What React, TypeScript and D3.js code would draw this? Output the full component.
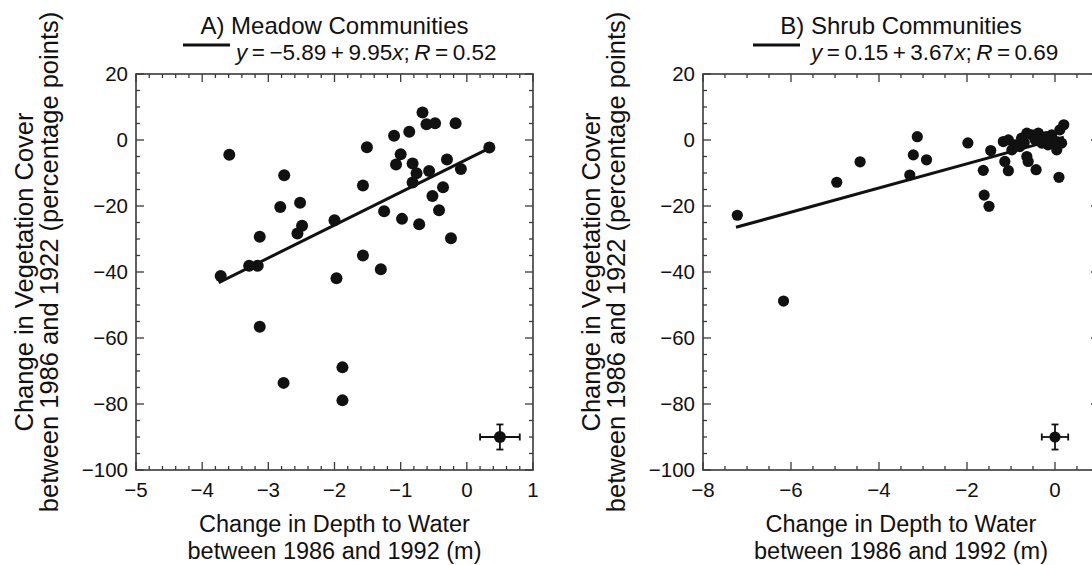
import React from "react";
import * as d3 from "d3";

// ---------- data ----------
const meadowDepth = [
  -3.59, -2.76, -2.82, -2.52, -2.49, -2.56, -3.13, -2.0, -1.51, -1.57, -1.57, -1.25, -1.3, -1.1,
  -0.87, -0.67, -0.61, -0.48, -0.17, -1.0, -1.07, -0.82, -0.76, -0.82, -0.57, -0.3, -0.09, -0.36,
  -0.52, -0.42, -0.98, -0.72, -0.24, 0.34, -3.29, -3.16, -3.72, -1.97, -3.13, -1.88, -2.77, -1.88,
];
const meadowCover = [
  -4.5, -10.7, -20.3, -19, -26, -28.3, -29.3, -24.3, -2.2, -13.8, -35, -21.6, -39.2, 1.3,
  2.5, 8.3, 4.8, 5.1, 5.1, -4.3, -7.4, -7.1, -10.1, -12.9, -9.4, -5.9, -8.8, -14.3,
  -17, -21.3, -23.9, -25.5, -29.8, -2.3, -38.1, -38.1, -41.2, -41.9, -56.6, -68.9, -73.6, -78.9,
];
const shrubDepth = [
  -7.22, -6.17, -4.96, -4.43, -3.13, -3.22, -2.92, -3.3, -1.98, -1.46, -1.63, -1.61, -1.5,
  -1.175, -1.06, -0.91, -1.14, -1.06, -0.64, -0.61, -0.43, -0.76, -0.64, -0.53, -0.38, -0.23,
  -0.075, 0.04, 0.11, 0.2, 0.15, 0.04, 0.09, -0.3, -0.8, -0.98, -0.45, -0.16, -0.7, -0.2,
];
const shrubCover = [
  -22.8, -48.8, -12.8, -6.6, 1.0, -4.5, -6.0, -10.6, -0.9, -3.2, -9.2, -16.7, -20.1,
  -0.47, 0.05, -1.46, -6.5, -9.3, -5.0, -6.5, -9.0, 0.56, 2.07, 1.56, 2.07, 0.56,
  1.56, -0.47, 3.07, 4.6, -0.95, -2.97, -11.3, -0.95, -1.98, -3.0, 0.05, -1.46, -0.8, 1.0,
];

const meadowFit = { intercept: -5.89, slope: 9.95, r: "0.52", from: -3.75, to: 0.35 };
const shrubFit = { intercept: 0.15, slope: 3.67, r: "0.69", from: -7.25, to: 0.2 };
const meadowError = { x: 0.5, y: -90, dx: 0.3, dy: 3.8 };
const shrubError = { x: 0.0, y: -90, dx: 0.3, dy: 3.8 };

const yTicks = [20, 0, -20, -40, -60, -80, -100];
const meadowXTicks = [-5, -4, -3, -2, -1, 0, 1];
const shrubXTicks = [-8, -6, -4, -2, 0];

const FONT = "'Liberation Sans', Arial, Helvetica, sans-serif";
const INK = "#111";
const FRAME = "#3a3a3a";

const fmt = (v: number) => (v < 0 ? "\u2212" + Math.abs(v) : String(v));

type PanelProps = {
  left: number;
  right: number;
  xDomain: [number, number];
  xTicks: number[];
  xMinorStep: number;
  depth: number[];
  cover: number[];
  fit: { intercept: number; slope: number; r: string; from: number; to: number };
  err: { x: number; y: number; dx: number; dy: number };
  title: string;
  radius: number;
  legendX0: number;
  legendGap: number;
};

const TOP = 74;
const BOTTOM = 470;

function Panel(p: PanelProps) {
  const x = d3.scaleLinear().domain(p.xDomain).range([p.left, p.right]);
  const y = d3.scaleLinear().domain([-100, 20]).range([BOTTOM, TOP]);
  const xMinor = d3.range(p.xDomain[0], p.xDomain[1] + 1e-9, p.xMinorStep);
  const yMinor = d3.range(-100, 20 + 1e-9, 5);
  const line = d3.line<number>().x((d) => x(d)).y((d) => y(p.fit.intercept + p.fit.slope * d));
  const cx = (p.left + p.right) / 2;
  const cy = (TOP + BOTTOM) / 2;
  const pts = p.depth.map((d, i) => [d, p.cover[i]]);
  const isMajorX = (v: number) => p.xTicks.some((t) => Math.abs(t - v) < 1e-6);
  const isMajorY = (v: number) => yTicks.some((t) => Math.abs(t - v) < 1e-6);
  const e = p.err;
  const cap = 3.5;
  const sp = "\u2009";
  const signInt = p.fit.intercept < 0 ? "\u2212" + Math.abs(p.fit.intercept).toFixed(2) : p.fit.intercept.toFixed(2);
  return (
    <g fontFamily={FONT} fill={INK}>
      {/* title */}
      <text x={cx} y={34} fontSize={24} textAnchor="middle">{p.title}</text>
      <line x1={p.legendX0} x2={p.legendX0 + 47} y1={45} y2={45} stroke={INK} strokeWidth={3} />
      <text x={p.legendX0 + 47 + p.legendGap} y={60} fontSize={22.5}>
        <tspan fontStyle="italic">y</tspan>
        <tspan>{`${sp}=${sp}${signInt}${sp}+${sp}${p.fit.slope.toFixed(2)}`}</tspan>
        <tspan fontStyle="italic">x</tspan>
        <tspan>{`;${sp}`}</tspan>
        <tspan fontStyle="italic">R</tspan>
        <tspan>{`${sp}=${sp}${p.fit.r}`}</tspan>
      </text>

      {/* frame */}
      <rect x={p.left} y={TOP} width={p.right - p.left} height={BOTTOM - TOP} fill="none" stroke={FRAME} strokeWidth={1.6} />
      {xMinor.map((v, i) => {
        const len = isMajorX(v) ? 8 : 4;
        return (
          <g key={"xt" + i} stroke={FRAME} strokeWidth={1.3}>
            <line x1={x(v)} x2={x(v)} y1={BOTTOM} y2={BOTTOM - len} />
            <line x1={x(v)} x2={x(v)} y1={TOP} y2={TOP + len} />
          </g>
        );
      })}
      {yMinor.map((v, i) => {
        const len = isMajorY(v) ? 8 : 4;
        return (
          <g key={"yt" + i} stroke={FRAME} strokeWidth={1.3}>
            <line x1={p.left} x2={p.left + len} y1={y(v)} y2={y(v)} />
            <line x1={p.right} x2={p.right - len} y1={y(v)} y2={y(v)} />
          </g>
        );
      })}
      {p.xTicks.map((t) => (
        <text key={"xl" + t} x={x(t)} y={497} fontSize={20.5} textAnchor="middle">{fmt(t)}</text>
      ))}
      {yTicks.map((t) => (
        <text key={"yl" + t} x={p.left - 8} y={y(t)} dy="0.36em" fontSize={20.5} textAnchor="end">{fmt(t)}</text>
      ))}
      {/* axis titles */}
      <text x={cx} y={532} fontSize={23.5} textAnchor="middle">Change in Depth to Water</text>
      <text x={cx} y={559} fontSize={23.5} textAnchor="middle">between 1986 and 1992 (m)</text>
      <text transform={`translate(${p.left - 103},${cy}) rotate(-90)`} fontSize={25.5} textAnchor="middle">Change in Vegetation Cover</text>
      <text transform={`translate(${p.left - 78},${cy - 10}) rotate(-90)`} fontSize={25.5} textAnchor="middle">between 1986 and 1922 (percentage points)</text>

      {/* fit line */}
      <path d={line([p.fit.from, p.fit.to]) || ""} fill="none" stroke={INK} strokeWidth={3} />
      {pts.map((d, i) => (
        <circle key={"p" + i} cx={x(d[0])} cy={y(d[1])} r={p.radius} fill={INK} />
      ))}
      {/* error marker */}
      <g stroke={INK} strokeWidth={1.8}>
        <line x1={x(e.x - e.dx)} x2={x(e.x + e.dx)} y1={y(e.y)} y2={y(e.y)} />
        <line x1={x(e.x - e.dx)} x2={x(e.x - e.dx)} y1={y(e.y) - cap} y2={y(e.y) + cap} />
        <line x1={x(e.x + e.dx)} x2={x(e.x + e.dx)} y1={y(e.y) - cap} y2={y(e.y) + cap} />
        <line x1={x(e.x)} x2={x(e.x)} y1={y(e.y - e.dy)} y2={y(e.y + e.dy)} />
        <line x1={x(e.x) - cap} x2={x(e.x) + cap} y1={y(e.y - e.dy)} y2={y(e.y - e.dy)} />
        <line x1={x(e.x) - cap} x2={x(e.x) + cap} y1={y(e.y + e.dy)} y2={y(e.y + e.dy)} />
      </g>
      <circle cx={x(e.x)} cy={y(e.y)} r={p.radius} fill={INK} />
    </g>
  );
}

export default function App() {
  return (
    <svg
      width={1092}
      height={565}
      viewBox="0 0 1092 565"
      style={{ position: "absolute", left: 0, top: 0, background: "#fff" }}
    >
      <rect x={0} y={0} width={1092} height={565} fill="#fff" />
      <Panel
        left={136}
        right={533}
        xDomain={[-5, 1]}
        xTicks={meadowXTicks}
        xMinorStep={0.2}
        depth={meadowDepth}
        cover={meadowCover}
        fit={meadowFit}
        err={meadowError}
        title="A) Meadow Communities"
        radius={6}
        legendX0={183}
        legendGap={6}
      />
      <Panel
        left={703}
        right={1099}
        xDomain={[-8, 1]}
        xTicks={shrubXTicks}
        xMinorStep={0.5}
        depth={shrubDepth}
        cover={shrubCover}
        fit={shrubFit}
        err={shrubError}
        title="B) Shrub Communities"
        radius={5.6}
        legendX0={753}
        legendGap={11}
      />
    </svg>
  );
}
